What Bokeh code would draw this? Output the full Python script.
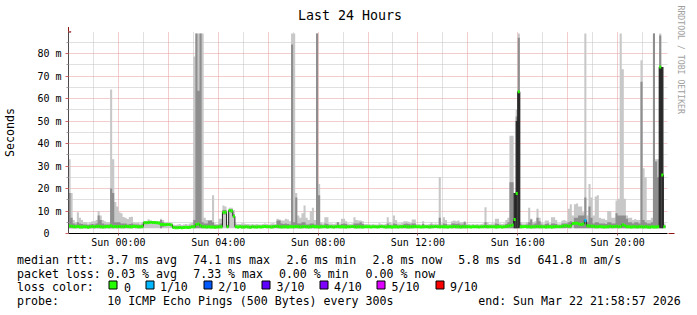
import numpy as np
from bokeh.plotting import figure
from bokeh.layouts import column
from bokeh.models import (Range1d, FixedTicker, Grid, Arrow, NormalHead, Title)
from bokeh.core.properties import value
from bokeh.embed import file_html
from bokeh.resources import INLINE

NAN = float("nan")

# ---------------- data ----------------
# 5-minute steps, first step starts at Sat 22:00 (hour -2 relative to Sun 00:00)
START_HOUR = -2.0
STEP_HOURS = 5.0 / 60.0

# median round trip time per step, ms (one row = one hour)
rtt_median_ms = [
    3.3, 3.2, 3.0, 3.0, 3.1, 2.9, 2.9, 3.0, 3.0, 2.8, 3.0, 3.1,
    3.0, 3.1, 3.2, 3.0, 2.9, 3.0, 3.1, 3.0, 3.4, 3.0, 3.1, 3.0,
    3.1, 3.0, 3.0, 3.2, 3.1, 3.0, 3.0, 3.2, 3.1, 3.0, 3.0, 3.1,
    4.8, 4.8, 4.9, 5.0, 4.9, 4.9, 4.8, 4.7, 4.0, 4.0, 3.9, 4.0,
    4.0, 3.8, 2.7, 2.6, 2.6, 2.7, 2.6, 2.7, 2.8, 2.7, 2.8, 3.0,
    3.0, 4.0, 4.2, 3.5, 3.0, 3.0, 2.9, 3.0, 2.9, 2.9, 2.8, 2.9,
    3.0, 3.0, 9.5, 9.5, 3.0, 10.2, 10.0, 7.7, 3.0, 2.9, 3.0, 2.9,
    2.9, 3.0, 2.9, 2.8, 3.0, 2.9, 2.9, 3.0, 2.9, 3.0, 3.1, 3.0,
    3.0, 2.9, 3.0, 3.1, 3.2, 3.0, 2.9, 3.0, 3.0, 2.9, 3.0, 3.0,
    3.0, 3.1, 3.0, 2.9, 3.0, 3.1, 3.0, 2.9, 3.0, 3.2, 3.0, 3.0,
    2.9, 3.0, 3.0, 3.1, 2.9, 3.0, 3.0, 2.9, 3.0, 3.1, 3.0, 3.0,
    3.0, 2.9, 3.0, 3.0, 3.1, 3.0, 2.9, 3.0, 3.0, 2.9, 3.0, 3.0,
    3.0, 2.9, 3.0, 3.0, 2.9, 3.0, 3.1, 3.0, 2.9, 3.0, 3.0, 2.9,
    3.0, 3.0, 2.9, 3.0, 3.0, 3.1, 3.0, 2.9, 3.0, 3.0, 3.1, 3.0,
    3.0, 2.9, 3.0, 3.0, 3.0, 2.9, 3.0, 3.0, 3.1, 3.0, 3.0, 3.0,
    3.0, 3.0, 2.9, 3.0, 3.0, 3.1, 3.0, 3.0, 2.9, 3.0, 3.0, 3.0,
    3.0, 2.9, 3.0, 3.0, 3.0, 2.9, 3.0, 3.0, 3.1, 3.0, 3.0, 3.0,
    3.0, 2.9, 3.0, 3.0, 2.9, 3.0, 3.1, 3.3, 3.5, 3.8, 6.2, 17.8,
    63.0, 3.0, 3.0, 3.1, 3.0, 3.0, 2.9, 3.0, 3.0, 3.1, 3.0, 3.0,
    3.0, 2.9, 3.0, 3.0, 2.9, 3.0, 3.1, 3.0, 3.0, 3.2, 3.4, 3.5,
    3.2, 3.5, 4.4, 4.6, 4.6, 4.2, 4.0, 4.2, 5.8, 3.5, 3.3, 3.2,
    3.2, 3.0, 3.0, 3.1, 3.0, 2.9, 3.0, 3.0, 3.2, 3.0, 3.1, 3.2,
    3.0, 3.1, 3.9, 3.4, 3.0, 3.0, 2.9, 3.0, 3.0, 2.9, 3.0, 3.0,
    2.9, 3.0, 2.9, 2.8, 3.0, 2.9, 2.9, 3.0, 74.0, 26.0, 3.0, NAN,
]

# highest ping of each step (outer, light smoke), ms
smoke_max_ms = [
    33, 18, 6, 5, 9.5, 7, 6, 5, 5, 4.5, 5, 5.5,
    5.5, 6, 10, 8, 6, 5.5, 5, 5, 64, 33, 14, 12,
    9.5, 9, 7.3, 7, 6.5, 7.3, 7.5, 5, 4.8, 5, 4.5, 5,
    5.6, 5.6, 6.3, 5.8, 5.6, 5.6, 5.5, 5.5, 6.6, 6.0, 5.0, 5.0,
    5.0, 4.8, 4.0, 3.8, 4.0, 4.2, 3.8, 4.0, 4.2, 4.0, 4.5, 4.8,
    78.7, 88.9, 88.9, 88.9, 88.9, 7, 6, 5.8, 6, 17, 4.5, 4.2,
    6.6, 6.6, 12.4, 12, 4, 11.5, 11.5, 10.5, 4.5, 4.2, 4.2, 4.6,
    4.5, 4.2, 4.2, 4.0, 4.2, 4.0, 4.2, 4.0, 4.0, 4.2, 4.5, 4.2,
    4.0, 4.4, 4.6, 4.2, 6.6, 6.2, 5.8, 5.8, 6.6, 6.2, 5.5, 88.9,
    88.9, 18, 8, 7, 9, 12.4, 7, 6, 10, 11.5, 6, 88.9,
    22, 5, 4.5, 7.2, 7.2, 4.5, 4.5, 4.2, 4.5, 5, 4.5, 6.6,
    6.6, 5.5, 4.5, 4.2, 4.5, 7.2, 6, 5.8, 5.8, 5.5, 4.2, 4.2,
    4.2, 4.0, 4.2, 4.0, 4.0, 4.6, 4.2, 4.0, 4.2, 7.2, 5.0, 4.5,
    8, 6, 4.5, 4.5, 4.8, 5.5, 5.5, 5.2, 4.8, 6.2, 6.2, 4.2,
    4.2, 4.0, 5.5, 4.0, 4.0, 4.2, 5.0, 4.2, 4.5, 4.2, 25, 4.5,
    7.2, 6, 4.2, 4.2, 5.5, 5.8, 5.5, 5.8, 5, 5, 5.5, 4.5,
    4.2, 4.0, 4.2, 4.0, 4.2, 4.0, 4.2, 4.5, 11.7, 5.0, 4.2, 4.5,
    4.5, 6.6, 6.6, 4.5, 4.2, 4.5, 6, 7, 43.5, 43.5, 18, 55,
    88.9, 5, 4.5, 4.5, 5, 11.5, 6.6, 5, 5.5, 11, 7, 5,
    4.5, 5.8, 5.8, 4.5, 7.2, 7.2, 6, 4.5, 4.5, 5.8, 6, 5.5,
    11, 13, 8, 13, 13.3, 12, 12, 9.5, 88.9, 8, 22, 16,
    8, 16.4, 17, 7, 6.6, 6.6, 6, 10, 10, 7, 7, 14.7,
    15.5, 88.9, 73, 15.5, 8, 7, 7, 6, 6.5, 6, 6, 77,
    29, 25, 6, 6, 7, 88.9, 33, 33, 88.9, 74, 4.5, NAN,
]

# upper edge of the darker inner smoke band, ms
smoke_high_ms = [
    18, 7, 4.5, 4, 5, 4.5, 4.2, 4, 4, 3.8, 4, 4.2,
    4, 4.5, 8, 6, 4.5, 4, 4, 4, 20, 18, 5, 5,
    5, 4.5, 4.5, 4.5, 4, 4.2, 4.5, 4, 4, 4, 3.8, 4,
    5.2, 5.2, 5.5, 5.3, 5.2, 5.2, 5.1, 5.0, 6.0, 5.0, 4.5, 4.4,
    4.5, 4.2, 3.2, 3.2, 3.2, 3.3, 3.1, 3.2, 3.3, 3.2, 3.5, 3.6,
    6, 88.9, 63.5, 88.9, 5, 4.5, 4.5, 5.8, 5.8, 5, 3.8, 3.6,
    4, 4.5, 10.5, 10.5, 3.5, 10.8, 10.8, 8.5, 3.5, 3.5, 3.5, 3.6,
    3.6, 3.5, 3.5, 3.4, 3.5, 3.4, 3.5, 3.4, 3.4, 3.5, 3.6, 3.5,
    3.4, 3.6, 3.8, 3.6, 5.8, 5.8, 4.5, 4.2, 4.5, 4.2, 4.0, 84,
    5, 16, 4.5, 4.5, 5, 5, 4, 4, 4.5, 4.5, 4, 88.9,
    17, 4, 3.6, 4.5, 4.2, 3.6, 3.6, 3.5, 3.6, 5, 3.8, 4.2,
    4.5, 4.2, 3.6, 3.5, 3.6, 4.5, 4.5, 4.5, 5, 4.2, 3.5, 3.5,
    3.5, 3.4, 3.5, 3.4, 3.4, 3.6, 3.5, 3.4, 3.5, 4.5, 3.8, 3.6,
    4.5, 4.2, 3.6, 3.6, 3.8, 4.2, 4.5, 4.2, 4, 4.5, 4.5, 3.5,
    3.5, 3.4, 4.2, 3.4, 3.4, 3.5, 4.0, 3.5, 3.6, 3.5, 7, 3.6,
    4.5, 4.2, 3.5, 3.5, 4.5, 4.5, 4.2, 4.5, 4, 4, 5, 3.8,
    3.5, 3.4, 3.5, 3.4, 3.5, 3.4, 3.5, 3.6, 5, 3.8, 3.5, 3.6,
    3.6, 4.5, 4.2, 3.6, 3.5, 3.6, 4.2, 5, 22.8, 22.8, 18, 52,
    87, 4, 3.6, 3.6, 4, 5, 6.2, 4, 4.5, 7, 5.5, 4,
    3.6, 4.2, 4.5, 3.8, 4.5, 4.5, 4.2, 3.6, 3.6, 4.5, 4.5, 4.5,
    5, 5.5, 5, 7, 7, 8, 8, 8, 16, 5, 12, 7,
    4.5, 5, 5, 4.5, 4.5, 4.5, 4.2, 5, 5, 4.5, 4.5, 9,
    8, 8, 8, 8, 6.6, 5, 5, 4.5, 5, 5, 4.5, 67.5,
    6, 5, 4.5, 4.5, 5, 88.9, 32, 25, 88, 74, 3.6, NAN,
]

# steps where nearly all pings were slow (dark core of the smoke)
core_steps = [214, 215, 216, 284, 285]
core_top_ms = [18, 50, 63, 74, 74]

# steps with packet loss (in tenths)
loss_steps = [248]
loss_tenths = [1]

x_tick_hours = [0, 4, 8, 12, 16, 20]
x_tick_labels = ["Sun 00:00", "Sun 04:00", "Sun 08:00", "Sun 12:00", "Sun 16:00", "Sun 20:00"]
y_tick_ms = [0, 10, 20, 30, 40, 50, 60, 70, 80]
y_tick_labels = ["0\u00a0\u00a0", "10 m", "20 m", "30 m", "40 m", "50 m", "60 m", "70 m", "80 m"]

loss_legend_tenths = [0, 1, 2, 3, 4, 5, 9]
loss_legend_labels = ["0", "1/10", "2/10", "3/10", "4/10", "5/10", "9/10"]
loss_legend_colors = ["#26ff00", "#00b8ff", "#0059ff", "#5e00ff", "#7e00ff", "#dd00ff", "#ff0000"]

rtt_stats = ["3.7 ms avg", "74.1 ms max", "2.6 ms min", "2.8 ms now", "5.8 ms sd", "641.8 m am/s"]
loss_stats = ["0.03 % avg", "7.33 % max", "0.00 % min", "0.00 % now"]
probe_text = "10 ICMP Echo Pings (500 Bytes) every 300s"
end_text = "end: Sun Mar 22 21:58:57 2026"
title_text = "Last 24 Hours"
y_label_text = "Seconds"
watermark_text = "RRDTOOL / TOBI OETIKER"

# ---------------- styling ----------------
FONT = "DejaVu Sans Mono"
LIGHT = "#c8c8c8"
MID = "#8e8e8e"
CORE = "#2e2e2e"
ARROW_C = "#8c1414"
FLOOR_MS = 2.3
X0, X1 = -2.0, 22.0
Y0, Y1 = 0.0, 89.8
W = 697
CHART_H = 250
LEG_H = 65

p = figure(width=W, height=CHART_H, x_range=Range1d(X0, X1), y_range=Range1d(Y0, Y1),
           output_backend="svg", toolbar_location=None,
           min_border_left=67, min_border_right=30, min_border_top=31, min_border_bottom=17,
           background_fill_color="white", border_fill_color="white")
p.outline_line_color = None
p.xgrid.visible = False
p.ygrid.visible = False

# title (left aligned with an offset so that it sits centred on the whole image)
p.title.text = title_text
p.title.align = "left"
p.title.vertical_align = "top"
p.title.offset = 229.5
p.title.standoff = 13
p.title.text_font = FONT
p.title.text_font_size = "13.3px"
p.title.text_font_style = "normal"
p.title.text_color = "black"

# watermark on the right side, starting near the top of the image
p.add_layout(Title(text=watermark_text, align="left", offset=-26, standoff=16,
                   text_font=FONT, text_font_size="8.2px", text_font_style="normal",
                   text_color="#a0a0a0"), "right")

# grids
GRAY_G = "#c0c0c0"
RED_G = "#e69a9a"
p.add_layout(Grid(dimension=0, ticker=FixedTicker(ticks=list(range(-1, 22, 2))),
                  grid_line_color=GRAY_G, grid_line_dash="1 1"))
p.add_layout(Grid(dimension=1, ticker=FixedTicker(ticks=[5, 15, 25, 35, 45, 55, 65, 75, 85]),
                  grid_line_color=GRAY_G, grid_line_dash="1 1"))
p.add_layout(Grid(dimension=0, ticker=FixedTicker(ticks=list(range(0, 21, 2))),
                  grid_line_color=RED_G, grid_line_dash="1 1"))
p.add_layout(Grid(dimension=1, ticker=FixedTicker(ticks=y_tick_ms[1:]),
                  grid_line_color=RED_G, grid_line_dash="1 1"))

# axes
p.xaxis.ticker = FixedTicker(ticks=x_tick_hours)
p.xaxis.major_label_overrides = {h: s for h, s in zip(x_tick_hours, x_tick_labels)}
p.xaxis.major_label_text_font = FONT
p.xaxis.major_label_text_font_size = "10px"
p.xaxis.major_label_text_color = "black"
p.xaxis.major_label_standoff = 1
p.xaxis.major_tick_in = 0
p.xaxis.major_tick_out = 2
p.xaxis.major_tick_line_color = "#b05050"
p.xaxis.minor_tick_line_color = None
p.xaxis.axis_line_color = "black"

p.yaxis.ticker = FixedTicker(ticks=y_tick_ms, minor_ticks=[5, 15, 25, 35, 45, 55, 65, 75, 85])
p.yaxis.major_label_overrides = {v: s for v, s in zip(y_tick_ms, y_tick_labels)}
p.yaxis.major_label_text_font = FONT
p.yaxis.major_label_text_font_size = "10px"
p.yaxis.major_label_text_color = "black"
p.yaxis.major_label_standoff = 4
p.yaxis.major_tick_in = 0
p.yaxis.major_tick_out = 3
p.yaxis.major_tick_line_color = "#d06060"
p.yaxis.minor_tick_in = 0
p.yaxis.minor_tick_out = 2
p.yaxis.minor_tick_line_color = "#a0a0a0"
p.yaxis.axis_line_color = "#504848"
p.yaxis.axis_label = y_label_text
p.yaxis.axis_label_text_font = FONT
p.yaxis.axis_label_text_font_size = "11.6px"
p.yaxis.axis_label_text_font_style = "normal"
p.yaxis.axis_label_text_color = "black"
p.yaxis.axis_label_standoff = 17


def px_x(px):
    return (px - 67.0) / 25.0 + X0


def px_y(py):
    return (233.0 - py) / 2.25


# ---------------- smoke + median ----------------
med = np.array(rtt_median_ms, dtype=float)
smax = np.array(smoke_max_ms, dtype=float)
shigh = np.array(smoke_high_ms, dtype=float)
n = len(med)
t0 = START_HOUR + np.arange(n) * STEP_HOURS
valid = ~np.isnan(med)
tv = t0[valid]
edges = np.append(tv, tv[-1] + STEP_HOURS)


def ext(a):
    return np.append(a, a[-1])


mv = med[valid]
mx = smax[valid]
hv = shigh[valid]
mid_bottom = np.minimum(np.maximum(FLOOR_MS, 2 * mv - hv), hv)
floor = np.full(len(edges), FLOOR_MS)

p.varea_step(x=edges, y1=floor, y2=ext(mx), step_mode="after", fill_color=LIGHT)
p.varea_step(x=edges, y1=ext(mid_bottom), y2=ext(hv), step_mode="after", fill_color=MID)

cs = np.array(core_steps)
p.quad(left=t0[cs], right=t0[cs] + STEP_HOURS, bottom=FLOOR_MS, top=core_top_ms,
       fill_color=CORE, line_color=None)

p.step(x=edges, y=ext(mv), mode="after", line_color="#202020", line_width=1)

color_of = dict(zip(loss_legend_tenths, loss_legend_colors))
seg_colors = [color_of[0]] * n
for s, l in zip(loss_steps, loss_tenths):
    seg_colors[s] = color_of[l]
seg_colors = [c for c, v in zip(seg_colors, valid) if v]
p.segment(x0=tv, y0=mv, x1=tv + STEP_HOURS, y1=mv, line_color=seg_colors, line_width=3)

# ---------------- arrows ----------------
p.add_layout(Arrow(end=NormalHead(size=6, fill_color=ARROW_C, line_color=ARROW_C, line_width=1),
                   x_start=X1, y_start=0, x_end=px_x(674), y_end=0,
                   line_color=ARROW_C, line_width=1))
p.add_layout(Arrow(end=NormalHead(size=5, fill_color=ARROW_C, line_color=ARROW_C, line_width=1),
                   x_start=X0, y_start=Y1, x_end=X0, y_end=px_y(26.5),
                   line_color=ARROW_C, line_width=1))

# ---------------- legend block (own figure, coordinates = page pixels) ----------------
leg = figure(width=W, height=LEG_H, x_range=Range1d(0, W), y_range=Range1d(CHART_H + LEG_H, CHART_H),
             output_backend="svg", toolbar_location=None, x_axis_location=None, y_axis_location=None,
             min_border=0, background_fill_color="white", border_fill_color="white")
leg.outline_line_color = None
leg.xgrid.visible = False
leg.ygrid.visible = False

for fig in (p, leg):
    try:
        fig.frame_align = False
    except Exception:
        pass

L1, L2, L3, L4 = 259.3, 273.0, 286.7, 300.3
txt, tx, ty = [], [], []


def put(s, x, y):
    txt.append(s)
    tx.append(x)
    ty.append(y)


put("median rtt:", 16.5, L1)
for s, x in zip(rtt_stats, [106.7, 192.7, 286.0, 372.0, 457.7, 537.0]):
    put(s, x, L1)
put("packet loss:", 16.5, L2)
for s, x in zip(loss_stats, [106.7, 192.7, 278.4, 365.0]):
    put(s, x, L2)
put("loss color:", 16.5, L3)
label_left = [123.4, 159.4, 217.7, 276.0, 333.4, 391.0, 449.4]
for lab, x in zip(loss_legend_labels, label_left):
    put(lab, x, L3)
put("probe:", 16.5, L4)
put(probe_text, 106.7, L4)
put(end_text, 477.7, L4)

leg.text(x=tx, y=ty, text=txt, text_font=value(FONT), text_font_size="11.6px",
         text_color="black", text_align="left", text_baseline="alphabetic")

square_left = np.array([108.5, 145.5, 203.5, 261.5, 319.5, 376.5, 435.5])
leg.quad(left=square_left, right=square_left + 8, top=280.5, bottom=288.5,
         fill_color=loss_legend_colors, line_color="black", line_width=1)

layout = column(p, leg, spacing=0)
open("out.html", "w").write(file_html(layout, INLINE))
